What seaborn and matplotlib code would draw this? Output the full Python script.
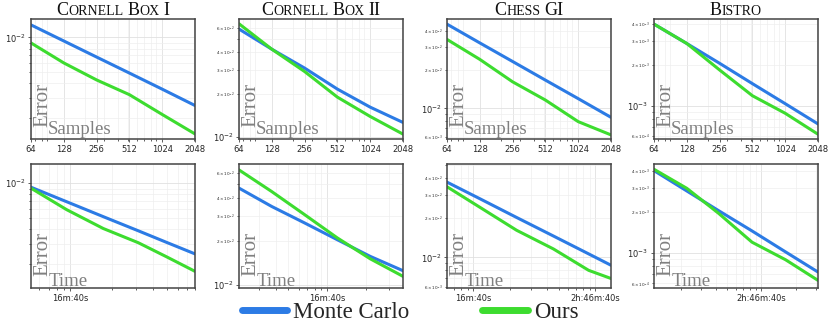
import pandas as pd
import matplotlib
matplotlib.use("Agg")
import matplotlib.pyplot as plt
import matplotlib.ticker as mticker
from matplotlib.transforms import IdentityTransform
from matplotlib.lines import Line2D
import seaborn as sns

# ---------------------------------------------------------------
# Data
# ---------------------------------------------------------------
scenes = ["Cornell Box I", "Cornell Box II", "Chess GI", "Bistro"]
samples = [64, 128, 256, 512, 1024, 2048]
sample_labels = ["64", "128", "256", "512", "1024", "2048"]

# error vs. sample count
mc_err_samples = [
    [0.01284, 0.00931, 0.00675, 0.00490, 0.00355, 0.00256],
    [0.0585, 0.0420, 0.0308, 0.0218, 0.0162, 0.0126],
    [0.0454, 0.0324, 0.0232, 0.0166, 0.0119, 0.0085],
    [0.00400, 0.00288, 0.00206, 0.00146, 0.00104, 0.000738],
]
ours_err_samples = [
    [0.00895, 0.00600, 0.00427, 0.00318, 0.00214, 0.00145],
    [0.0638, 0.0420, 0.0291, 0.0191, 0.0139, 0.0104],
    [0.0345, 0.0241, 0.0161, 0.0116, 0.00787, 0.0062],
    [0.00400, 0.00288, 0.00184, 0.00119, 0.000884, 0.00062],
]

# error vs. render time (seconds)
render_time = [
    [523, 946, 1742, 3118, 4996, 8007],
    [209, 373, 669, 1194, 2142, 3819],
    [611, 1171, 2271, 4542, 8825, 13450],
    [1159, 2243, 4253, 8337, 16350, 31400],
]
mc_err_time = [
    [0.00924, 0.00693, 0.00515, 0.00389, 0.00309, 0.00246],
    [0.0468, 0.0349, 0.0268, 0.0205, 0.0157, 0.0125],
    [0.0373, 0.0275, 0.0201, 0.01454, 0.01064, 0.00872],
    [0.00400, 0.00284, 0.00204, 0.00145, 0.00102, 0.000727],
]
ours_err_time = [
    [0.00906, 0.00592, 0.00407, 0.00307, 0.00232, 0.00174],
    [0.0626, 0.0443, 0.0306, 0.0211, 0.0151, 0.01142],
    [0.0344, 0.0236, 0.01607, 0.01160, 0.00798, 0.00692],
    [0.00409, 0.00297, 0.00195, 0.00120, 0.000894, 0.000632],
]

methods = ["Monte Carlo", "Ours"]
palette = {"Monte Carlo": "#2c7be5", "Ours": "#3ddc2f"}

# axis limits per panel
ylim_samples = [(0.00131, 0.01445), (0.0096, 0.069), (0.00576, 0.0498), (0.000572, 0.00436)]
ylim_time = [(0.00125, 0.01465), (0.00948, 0.0688), (0.00586, 0.0512), (0.000556, 0.00447)]

W, H = 830, 325
lefts = [31, 239, 447, 654]
SERIF = "Liberation Serif"
LABEL_GRAY = "#808080"


def px_rect(left, top, width, bottom):
    return [left / W, 1 - bottom / H, width / W, (bottom - top) / H]


def fmt_time(v, pos):
    s = int(round(v))
    h, rem = divmod(s, 3600)
    m, sec = divmod(rem, 60)
    if h:
        return f"{h}h:{m}m:{sec}s"
    return f"{m}m:{sec}s"


def draw_panel(ax, x, mc, ours, word):
    df = pd.DataFrame({
        "x": list(x) * 2,
        "err": list(mc) + list(ours),
        "method": [methods[0]] * len(mc) + [methods[1]] * len(ours),
    })
    sns.lineplot(data=df, x="x", y="err", hue="method", palette=palette,
                 lw=2.2, legend=False, ax=ax)
    ax.set_xscale("log")
    ax.set_yscale("log")
    ax.set_xlabel("")
    ax.set_ylabel("")
    ax.grid(True, which="major", color="#e0e0e0", lw=0.6)
    ax.grid(True, which="minor", color="#eeeeee", lw=0.5)
    for sp in ax.spines.values():
        sp.set_color("#444444")
        sp.set_linewidth(1.1)
    ax.tick_params(which="both", bottom=True, left=True, color="#444444",
                   width=0.6, pad=1.5)
    ax.tick_params(which="major", length=2.5, labelsize=6)
    ax.tick_params(which="minor", length=1.5)
    ax.tick_params(axis="y", which="minor", labelsize=3)
    ax.text(0.012, 0.10, "Error", rotation=90, transform=ax.transAxes,
            ha="left", va="bottom", fontsize=15, color=LABEL_GRAY, family=SERIF)
    ax.text(0.105, 0.045, word, transform=ax.transAxes, ha="left",
            va="baseline", fontsize=13.5, color=LABEL_GRAY, family=SERIF)


def smallcaps_title(fig, ax, text, big=13, small=10, baseline_from_top=15):
    renderer = fig.canvas.get_renderer()
    dpi = fig.dpi
    runs = []
    for i, word in enumerate(text.split(" ")):
        if i > 0:
            runs.append((None, 0.15 * big * dpi / 72))
        cur, cur_size = "", None
        for ch in word:
            size = small if ch.islower() else big
            if size != cur_size and cur:
                runs.append((cur, cur_size))
                cur = ""
            cur += ch.upper()
            cur_size = size
        if cur:
            runs.append((cur, cur_size))
    items, total = [], 0.0
    for s, size in runs:
        if s is None:
            items.append((None, size))
            total += size
            continue
        t = fig.text(0, 0, s, fontsize=size, family=SERIF, color="#111111",
                     va="baseline", ha="left", transform=IdentityTransform())
        w = t.get_window_extent(renderer).width + 0.6
        items.append((t, w))
        total += w
    bb = ax.get_window_extent(renderer)
    x = (bb.x0 + bb.x1) / 2 - total / 2
    y = H - baseline_from_top
    for t, w in items:
        if t is not None:
            t.set_position((x, y))
        x += w


sns.set_style("whitegrid")
plt.rcParams["font.family"] = ["DejaVu Sans"]
plt.rcParams["axes.facecolor"] = "white"

fig = plt.figure(figsize=(W / 100, H / 100), dpi=100)

for i, scene in enumerate(scenes):
    # top row: error vs samples
    ax = fig.add_axes(px_rect(lefts[i], 19, 164, 139))
    draw_panel(ax, samples, mc_err_samples[i], ours_err_samples[i], "Samples")
    ax.set_xlim(samples[0], samples[-1])
    ax.set_ylim(*ylim_samples[i])
    ax.set_xticks(samples)
    ax.set_xticklabels(sample_labels)
    ax.xaxis.set_minor_formatter(mticker.NullFormatter())
    smallcaps_title(fig, ax, scene)

    # bottom row: error vs time
    ax2 = fig.add_axes(px_rect(lefts[i], 164, 164, 288))
    draw_panel(ax2, render_time[i], mc_err_time[i], ours_err_time[i], "Time")
    ax2.texts[-1].set_position((0.11, 0.02))
    ax2.set_xlim(render_time[i][0], render_time[i][-1])
    ax2.set_ylim(*ylim_time[i])
    ax2.xaxis.set_major_locator(mticker.LogLocator(base=10))
    ax2.xaxis.set_major_formatter(mticker.FuncFormatter(fmt_time))
    ax2.xaxis.set_minor_formatter(mticker.NullFormatter())

handles = [Line2D([], [], color=palette[m], lw=5, solid_capstyle="round") for m in methods]
fig.legend(handles, methods, loc="center", bbox_to_anchor=(0.494, 0.037), ncol=2,
           frameon=False, prop={"family": SERIF, "size": 16.5},
           handlelength=2.0, handletextpad=0.24, columnspacing=3.2)

fig.savefig("out.png", dpi=100)
plt.close(fig)
